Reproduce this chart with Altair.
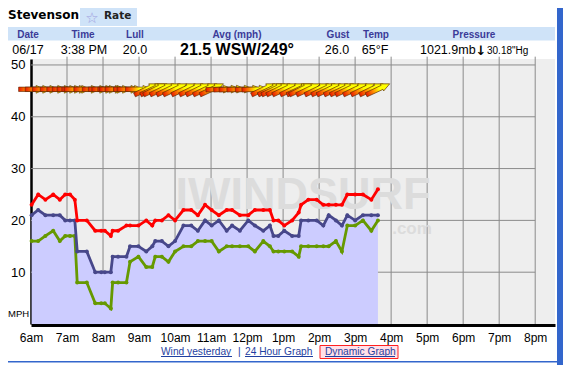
import altair as alt
import pandas as pd

# ---------------- data ----------------
times = ["6:01", "6:12", "6:24", "6:37", "6:48", "6:57", "7:05", "7:13", "7:17", "7:33",
         "7:47", "7:57", "8:03", "8:13", "8:16", "8:25", "8:39", "8:45", "8:59", "9:12",
         "9:22", "9:27", "9:38", "9:49", "10:00", "10:14", "10:27", "10:38", "10:50", "11:01",
         "11:13", "11:26", "11:35", "11:48", "12:02", "12:13", "12:27", "12:38", "12:44", "12:52",
         "13:02", "13:15", "13:26", "13:30", "13:42", "13:56", "14:07", "14:16", "14:28", "14:38",
         "14:47", "15:00", "15:13", "15:27", "15:38"]
gust = [23, 25, 24, 25, 24, 25, 25, 24, 20, 20,
        18, 18, 18, 17, 18, 18, 19, 19, 19, 20,
        19, 20, 20, 21, 20, 22, 22, 21, 23, 22,
        21, 22, 22, 21, 21, 22, 22, 22, 20, 20,
        19, 20, 21.5, 23, 24, 24, 23, 23, 23, 23,
        25, 25, 25, 24, 26]
avg = [21, 22, 21, 21, 21, 20, 20, 20, 14, 14,
       10, 10, 10, 10, 13, 13, 13, 15, 15, 14,
       15, 16, 16, 15, 16, 19, 19, 18, 20, 19,
       20, 18, 19, 18, 20, 19, 18, 19, 17, 17,
       18, 17, 17, 20, 20, 20, 19, 21, 20, 19,
       21, 20, 21, 21, 21]
lull = [16, 16, 17, 18, 16, 17, 17, 17, 8, 8,
        4, 4, 4, 3, 8, 8, 8, 12, 13, 11,
        11, 13, 13, 12, 14, 15, 15, 16, 16, 16,
        14, 15, 15, 15, 15, 14, 16, 15, 14, 14,
        14, 14, 13, 15, 15, 15, 15, 15, 16, 14,
        19, 19, 20, 18, 20]
direction = [270] * 19 + [245] * 11 + [268] * 6 + [245] * 19

hour_labels = ["6am", "7am", "8am", "9am", "10am", "11am", "12pm", "1pm", "2pm",
               "3pm", "4pm", "5pm", "6pm", "7pm", "8pm"]
y_ticks = [10, 20, 30, 40, 50]

station = "Stevenson"
rate_label = "Rate"
header_labels = ["Date", "Time", "Lull", "Avg (mph)", "Gust", "Temp", "Pressure"]
header_values = ["06/17", "3:38 PM", "20.0", "21.5 WSW/249°", "26.0", "65°F", "1021.9mb"]
pressure_trend = "↓"
pressure_hg = "30.18\"Hg"
link_labels = ["Wind yesterday", "|", "24 Hour Graph", "Dynamic Graph"]
unit_label = "MPH"
watermark = ["IWINDSURF", ".com"]

# ---------------- layout ----------------
OX, OY = 31, 59          # plot origin on the page
W, H = 524, 265
XMAX = 873
YMAX = 51.15
ARROW_ROW = 45.3


def to_min(s):
    h, m = s.split(":")
    return (int(h) - 6) * 60 + int(m)


df = pd.DataFrame({"t": [to_min(s) for s in times], "gust": gust, "avg": avg,
                   "lull": lull, "dir": direction})
df["rot"] = (df["dir"] + 90) % 360
df["row"] = ARROW_ROW

xs = alt.Scale(domain=[0, XMAX], nice=False, zero=False)
ys = alt.Scale(domain=[0, YMAX], nice=False)
one = pd.DataFrame({"a": [0]})

label_expr = "[" + ",".join("'%s'" % l for l in hour_labels) + "][round(datum.value/60)]"

x_axis = alt.Axis(values=list(range(0, 841, 60)), labelExpr=label_expr, grid=False, ticks=False,
                  domainColor="black", domainWidth=3, labelFontSize=12, labelFont="Liberation Sans",
                  labelColor="black", labelPadding=7, labelFlush=False, labelOverlap=False,
                  title=None, offset=1)
y_axis = alt.Axis(values=y_ticks, grid=False, ticks=False, domainColor="black", domainWidth=2.5,
                  labelFontSize=13, labelFont="Liberation Sans", labelColor="black", labelPadding=6,
                  labelOverlap=False, title=None)


def X(f):
    return alt.X(f, scale=xs, axis=x_axis)


def Y(f):
    return alt.Y(f, scale=ys, axis=y_axis)


layers = []

# grid
hg = pd.DataFrame({"v": y_ticks, "x0": 0, "x1": 840})
layers.append(alt.Chart(hg).mark_rule(color="#8a8a8a", strokeWidth=1).encode(
    y=Y("v:Q"), x=X("x0:Q"), x2="x1:Q"))
vg = pd.DataFrame({"h": list(range(60, 841, 60)), "y0": 0, "y1": 51.6})
layers.append(alt.Chart(vg).mark_rule(color="#8a8a8a", strokeWidth=1).encode(
    x=X("h:Q"), y=Y("y0:Q"), y2="y1:Q"))


def rect(x1, y1, x2, y2, fill, stroke=None, sw=1):
    kw = dict(color=fill)
    if stroke:
        kw.update(stroke=stroke, strokeWidth=sw)
    return alt.Chart(one).mark_rect(**kw).encode(
        x=alt.value(x1 - OX), x2=alt.value(x2 - OX), y=alt.value(y1 - OY), y2=alt.value(y2 - OY))


def txt(s, px, py, size, bold=False, color="black", align="left", font="Liberation Sans"):
    return alt.Chart(one).mark_text(text=s, align=align, baseline="alphabetic", fontSize=size,
                                    fontWeight="bold" if bold else "normal", font=font,
                                    color=color).encode(x=alt.value(px - OX), y=alt.value(py - OY))


# watermark
layers.append(txt(watermark[0], 303, 209, 45, bold=True, color="#dcdcdc", align="center"))
layers.append(txt(watermark[1], 412, 234, 17, bold=True, color="#dcdcdc", align="center"))

# area under average
base = alt.Chart(df)
layers.append(base.mark_area(color="#ccccff", opacity=1).encode(x=X("t:Q"), y=Y("avg:Q")))

for col, colr in [("lull", "#669900"), ("avg", "#47478a"), ("gust", "#ff0000")]:
    layers.append(base.mark_line(color=colr, strokeWidth=2.8,
                                 point=alt.OverlayMarkDef(filled=True, size=16, color=colr)).encode(
        x=X("t:Q"), y=Y(col + ":Q")))

# direction arrows
arrow_path = "M -1 -0.17 L 0.35 -0.17 L 0.35 -0.3 L 1 0 L 0.35 0.3 L 0.35 0.17 L -1 0.17 Z"
grad = alt.LinearGradient(gradient="linear", x1=0, y1=0, x2=1, y2=0,
                          stops=[alt.GradientStop(color="#e81800", offset=0),
                                 alt.GradientStop(color="#ff8c00", offset=0.3),
                                 alt.GradientStop(color="#ffff00", offset=0.55),
                                 alt.GradientStop(color="#ffff00", offset=1)])
layers.append(base.mark_point(shape=arrow_path, size=676, filled=True, fill=grad, stroke="#5a2800",
                              strokeWidth=0.6, opacity=1, fillOpacity=1).encode(
    x=X("t:Q"), y=Y("row:Q"), angle=alt.Angle("rot:Q", scale=None)))

# header
layers.append(rect(80, 4, 137, 26, "#cfe3f8"))
layers.append(rect(8, 27, 555, 40.5, "#cfe3f8"))
layers.append(txt(station, 8, 18.5, 12, bold=True, font="DejaVu Sans"))
layers.append(txt("☆", 92, 23, 15, color="#a0a0e0", align="center", font="DejaVu Sans"))
layers.append(txt(rate_label, 104, 19, 10.5, bold=True, font="DejaVu Sans", color="#222222"))

hx = [28, 83, 135, 237, 338, 376, 474]
for lab, x in zip(header_labels, hx):
    layers.append(txt(lab, x, 37.5, 10, bold=True, color="#3b3b98", align="center"))

vx = [28, 84, 135, None, 337, 375, None]
for val, x in zip(header_values, vx):
    if x is not None:
        layers.append(txt(val, x, 54, 12.5, align="center"))
layers.append(txt(header_values[3], 180, 54.5, 16, bold=True))
layers.append(txt(header_values[6], 420, 54, 12.5))
layers.append(txt(pressure_trend, 481, 55, 13, bold=True, align="center", font="DejaVu Sans"))
layers.append(txt(pressure_hg, 487, 54, 10))

# unit label
layers.append(txt(unit_label, 8, 317, 9.5))

# links
layers.append(rect(320, 345.5, 398, 358.5, "#ffe0e8", stroke="#ff2020", sw=1))
link_x = [161, 238, 245, 325]
link_w = [71, 0, 68, 70]
for lab, x, w in zip(link_labels, link_x, link_w):
    layers.append(txt(lab, x, 355, 10.2, color="#1f3fa0"))
    if w:
        layers.append(alt.Chart(one).mark_rule(color="#1f3fa0", strokeWidth=1).encode(
            x=alt.value(x - OX), x2=alt.value(x + w - OX), y=alt.value(356.5 - OY)))
layers.append(rect(8, 361, 557, 362.5, "#3366cc"))
layers.append(rect(557, 0, 563, 365, "#3366cc"))

chart = alt.layer(*layers).properties(
    width=W, height=H,
    autosize=alt.AutoSizeParams(type="none"),
    padding={"left": OX - 8, "top": OY - 8, "right": 555 - (OX - 8) - W, "bottom": 357 - (OY - 8) - H},
    background="white",
).configure_view(fill="#eeeeee", stroke=None)

chart.save("out.html", embed_options={"renderer": "svg", "actions": False})
